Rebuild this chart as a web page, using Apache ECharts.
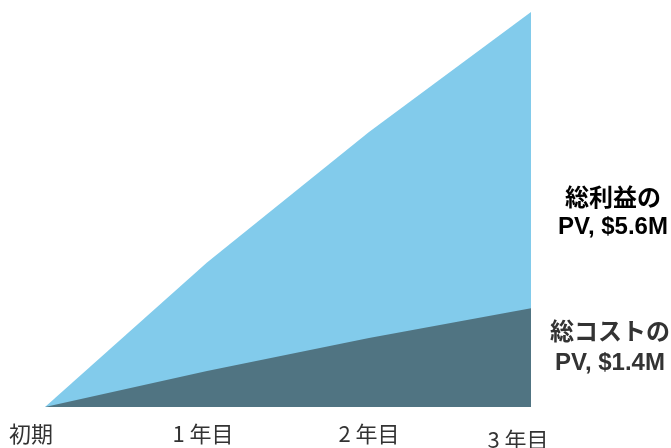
<!DOCTYPE html>
<html>
<head>
<meta charset="utf-8">
<script src="https://cdn.jsdelivr.net/npm/echarts@6/dist/echarts.min.js"></script>
<style>
  html, body { margin: 0; padding: 0; background: #fff; }
  #chart { width: 671px; height: 448px; }
</style>
</head>
<body>
<div id="chart"></div>
<script>
var categories = ['初期', '1 年目', '2 年目', '3 年目'];
var benefits = [0, 2.05, 3.9, 5.6];   // 総利益 PV ($M)
var costs = [0, 0.51, 0.98, 1.4];     // 総コスト PV ($M)

var chart = echarts.init(document.getElementById('chart'));

var labelFont = "'Liberation Sans Narrow', 'Noto Sans CJK JP', sans-serif";
var endFont = "'Liberation Sans', Arial, 'Noto Sans CJK JP', sans-serif";

chart.setOption({
  animation: false,
  grid: {
    top: 12,
    left: 45,
    right: 140,
    bottom: 41,
    outerBoundsMode: 'none',
    containLabel: false
  },
  xAxis: {
    type: 'category',
    boundaryGap: false,
    data: [
      { value: categories[0], textStyle: { padding: [0, 28, 0, 0] } },
      { value: categories[1], textStyle: { padding: [0, 8, 0, 0] } },
      { value: categories[2] },
      { value: categories[3], textStyle: { padding: [6, 26, 0, 0] } }
    ],
    axisLine: { show: false },
    axisTick: { show: false },
    axisLabel: {
      margin: 16,
      fontSize: 22,
      color: '#333',
      fontFamily: labelFont,
      interval: 0
    }
  },
  yAxis: {
    type: 'value',
    min: 0,
    max: 5.6,
    show: false
  },
  series: [{
    name: '総利益',
    type: 'line',
    data: benefits,
    symbol: 'none',
    lineStyle: { width: 0 },
    areaStyle: { color: '#82cbeb', opacity: 1 },
    endLabel: {
      show: true,
      formatter: '総利益の\nPV, $5.6M',
      align: 'center',
      distance: 0,
      offset: [82, 201],
      fontSize: 24,
      fontWeight: 'bold',
      lineHeight: 28,
      color: '#000',
      fontFamily: endFont
    }
  }, {
    name: '総コスト',
    type: 'line',
    data: costs,
    symbol: 'none',
    lineStyle: { width: 0 },
    areaStyle: { color: '#507482', opacity: 1 },
    endLabel: {
      show: true,
      formatter: '総コストの\nPV, $1.4M',
      align: 'center',
      distance: 0,
      offset: [79, 40],
      fontSize: 24,
      fontWeight: 'bold',
      lineHeight: 30,
      color: '#333',
      fontFamily: endFont
    }
  }]
});
</script>
</body>
</html>
